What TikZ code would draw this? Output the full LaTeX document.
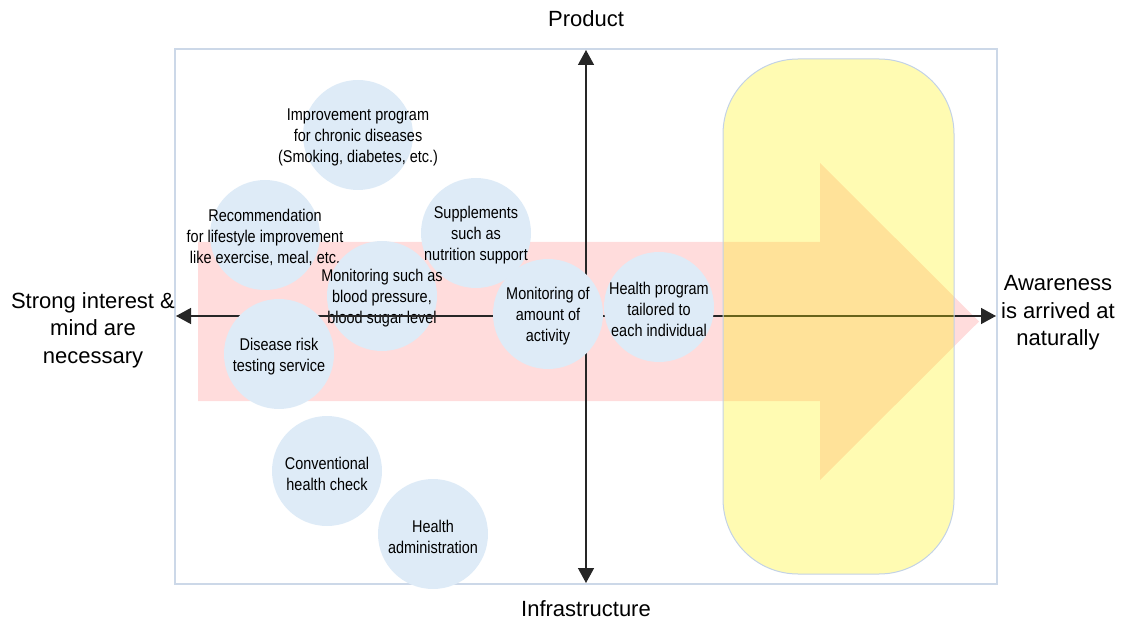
\documentclass[tikz,border=0pt]{standalone}
\usepackage{fontspec}
\setmainfont{Liberation Sans}
\newfontfamily\narrowfont[FakeStretch=0.85]{Liberation Sans}
\usetikzlibrary{arrows.meta}
\definecolor{framec}{HTML}{CCD8E8}
\definecolor{bubblec}{HTML}{DEEBF7}
\definecolor{pinkc}{HTML}{FFDCDC}
\definecolor{axisc}{HTML}{262626}
\definecolor{yellowedge}{HTML}{C3D2E6}
\begin{document}
\begin{tikzpicture}[x=1pt,y=-1pt,
  bubble/.style={circle, fill=bubblec, minimum size=110pt, inner sep=0pt},
  btext/.style={align=center, font=\narrowfont\fontsize{17}{21}\selectfont, inner sep=0pt, yshift=-2.5pt},
  axislabel/.style={align=center, font=\fontsize{22}{27.5}\selectfont, inner sep=0pt},
  axisline/.style={draw=axisc, line width=1.4pt, {Triangle[width=16pt,length=15pt]}-{Triangle[width=16pt,length=15pt]}}
]
\useasboundingbox (0,0) rectangle (1124,620);
% frame
\draw[framec, line width=1.2pt] (175,49) rectangle (997,584);
% pink arrow
\fill[pinkc] (198,242) -- (820,242) -- (820,163) -- (979,321.5) -- (820,480) -- (820,401) -- (198,401) -- cycle;
% circles above the horizontal axis
\node[bubble] (c1) at (358,135) {};
\node[btext] (t1) at (c1.center) {Improvement program\\for chronic diseases\\(Smoking, diabetes, etc.)};
\node[bubble] (c2) at (265,235) {};
\node[btext] (t2) at (c2.center) {Recommendation\\for lifestyle improvement\\like exercise, meal, etc.};
\node[bubble] (c3) at (476,233) {};
\node[btext] (t3) at (c3.center) {Supplements\\such as\\nutrition support};
% circle under the axis
\node[bubble] (c4) at (382,296) {};
\node[btext] (t4) at (c4.center) {Monitoring such as\\blood pressure,\\blood sugar level};
% axes
\coordinate (axL) at (176,316);
\coordinate (axR) at (996,316);
\coordinate (axT) at (586,50);
\coordinate (axB) at (586,583);
\draw[axisline] (axL) -- (axR);
\draw[axisline] (axT) -- (axB);
% circles over the axes
\node[bubble] (c5) at (279,354) {};
\node[btext] (t5) at (c5.center) {Disease risk\\testing service};
\node[bubble] (c6) at (548,314) {};
\node[btext] (t6) at (c6.center) {Monitoring of\\amount of\\activity};
\node[bubble] (c7) at (659,307) {};
\node[btext] (t7) at (c7.center) {Health program\\tailored to\\each individual};
\node[bubble] (c8) at (327,471) {};
\node[btext] (t8) at (c8.center) {Conventional\\health check};
\node[bubble] (c9) at (433,534) {};
\node[btext] (t9) at (c9.center) {Health\\administration};
% yellow rounded box
\draw[draw=yellowedge, line width=1pt, fill=yellow, fill opacity=0.3, rounded corners=75pt] (723,59) rectangle (954,574);
% axis labels
\node[axislabel, anchor=base] (lp) at (586,27) {Product};
\node[axislabel, anchor=base] (li) at (586,616) {Infrastructure};
\node[axislabel] (ll) at (93,330) {Strong interest \&\\mind are\\necessary};
\node[axislabel] (lr) at (1058,313) {Awareness\\is arrived at\\naturally};
\end{tikzpicture}
\end{document}
